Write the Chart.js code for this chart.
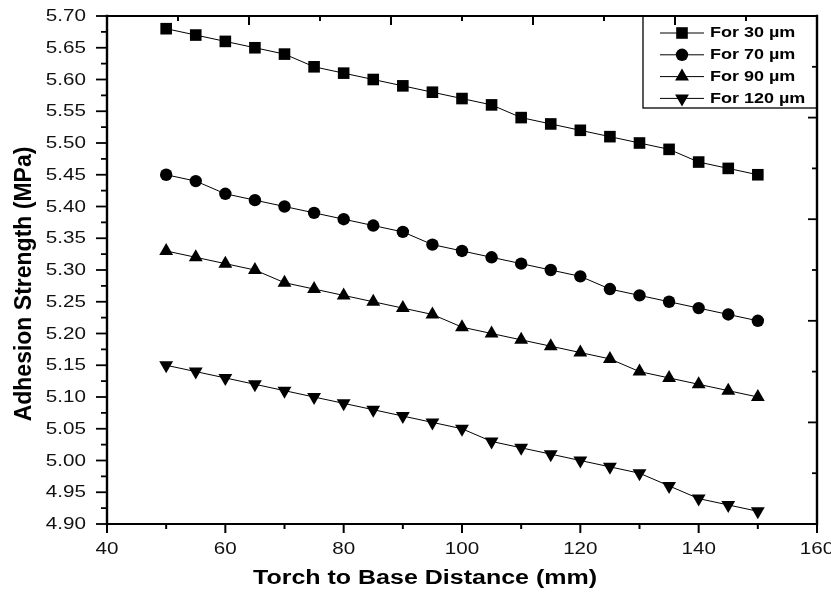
<!DOCTYPE html>
<html>
<head>
<meta charset="utf-8">
<script src="https://cdn.jsdelivr.net/npm/chart.js@4/dist/chart.umd.min.js"></script>
<style>
  html, body { margin: 0; padding: 0; background: #ffffff; }
  #wrap { width: 831px; height: 593px; }
</style>
</head>
<body>
<div id="wrap"><canvas id="chart" width="831" height="593"></canvas></div>
<script>
// Torch-to-base distance (mm)
const distances = [50, 55, 60, 65, 70, 75, 80, 85, 90, 95, 100, 105, 110, 115, 120, 125, 130, 135, 140, 145, 150];

// Adhesion strength (MPa) per coating thickness
const strength30 = [5.68, 5.67, 5.66, 5.65, 5.64, 5.62, 5.61, 5.60, 5.59, 5.58, 5.57, 5.56, 5.54, 5.53, 5.52, 5.51, 5.50, 5.49, 5.47, 5.46, 5.45];
const strength70 = [5.45, 5.44, 5.42, 5.41, 5.40, 5.39, 5.38, 5.37, 5.36, 5.34, 5.33, 5.32, 5.31, 5.30, 5.29, 5.27, 5.26, 5.25, 5.24, 5.23, 5.22];
const strength90 = [5.33, 5.32, 5.31, 5.30, 5.28, 5.27, 5.26, 5.25, 5.24, 5.23, 5.21, 5.20, 5.19, 5.18, 5.17, 5.16, 5.14, 5.13, 5.12, 5.11, 5.10];
const strength120 = [5.15, 5.14, 5.13, 5.12, 5.11, 5.10, 5.09, 5.08, 5.07, 5.06, 5.05, 5.03, 5.02, 5.01, 5.00, 4.99, 4.98, 4.96, 4.94, 4.93, 4.92];

const seriesNames = ['For 30 µm', 'For 70 µm', 'For 90 µm', 'For 120 µm'];

// Axis tick labels
const xTickLabels = ['40', '60', '80', '100', '120', '140', '160'];
const yTickLabels = ['4.90', '4.95', '5.00', '5.05', '5.10', '5.15', '5.20', '5.25', '5.30', '5.35', '5.40', '5.45', '5.50', '5.55', '5.60', '5.65', '5.70'];

const xTitle = 'Torch to Base Distance (mm)';
const yTitle = 'Adhesion Strength (MPa)';

const markerStyles = [
  { pointStyle: 'rect', radius: 8.2, rotation: 0 },
  { pointStyle: 'circle', radius: 6.2, rotation: 0 },
  { pointStyle: 'triangle', radius: 8, rotation: 0 },
  { pointStyle: 'triangle', radius: 8, rotation: 180 }
];

const seriesValues = [strength30, strength70, strength90, strength120];

const datasets = seriesValues.map((vals, i) => ({
  label: seriesNames[i],
  data: distances.map((d, k) => ({ x: d, y: vals[k] })),
  borderColor: '#000000',
  borderWidth: 1,
  backgroundColor: '#000000',
  pointStyle: markerStyles[i].pointStyle,
  pointRadius: markerStyles[i].radius,
  pointRotation: markerStyles[i].rotation,
  pointBackgroundColor: '#000000',
  pointBorderColor: '#000000',
  pointBorderWidth: 0,
  tension: 0,
  clip: false
}));

const TEXT_SX = 1.25; // wide lettering

function wideText(ctx, text, x, y, font, align, baseline, sx) {
  ctx.save();
  ctx.translate(x, y);
  ctx.scale(sx, 1);
  ctx.font = font;
  ctx.textAlign = align;
  ctx.textBaseline = baseline;
  ctx.fillText(text, 0, 0);
  ctx.restore();
}

function line(ctx, x1, y1, x2, y2) {
  ctx.beginPath();
  ctx.moveTo(x1, y1);
  ctx.lineTo(x2, y2);
  ctx.stroke();
}

const frameAndAxes = {
  id: 'frameAndAxes',
  afterDraw(chart) {
    const ctx = chart.ctx;
    const a = chart.chartArea;
    const xs = chart.scales.x, ys = chart.scales.y;
    const xt = chart.scales.xTop, yr = chart.scales.yRight;
    ctx.save();
    ctx.strokeStyle = '#000000';
    ctx.fillStyle = '#111111';
    ctx.lineCap = 'butt';

    // frame
    ctx.lineWidth = 2.4;
    line(ctx, a.left, a.top - 1.2, a.left, a.bottom + 1.2);
    line(ctx, a.right, a.top - 1.2, a.right, a.bottom + 1.2);
    ctx.lineWidth = 2;
    line(ctx, a.left, a.top, a.right, a.top);
    line(ctx, a.left, a.bottom, a.right, a.bottom);

    // left axis: major and minor ticks, labels
    const yVals = yTickLabels.map(Number);
    ctx.lineWidth = 1.8;
    yVals.forEach((v, i) => {
      const py = ys.getPixelForValue(v);
      line(ctx, a.left - 11, py, a.left, py);
      if (i < yVals.length - 1) {
        const pm = ys.getPixelForValue((v + yVals[i + 1]) / 2);
        line(ctx, a.left - 6, pm, a.left, pm);
      }
      wideText(ctx, yTickLabels[i], 86, py + 0.5, '16.5px "Liberation Sans", Arial, sans-serif', 'right', 'middle', TEXT_SX);
    });

    // bottom axis
    const xVals = xTickLabels.map(Number);
    ctx.lineWidth = 2;
    xVals.forEach((v, i) => {
      const px = xs.getPixelForValue(v);
      line(ctx, px, a.bottom, px, a.bottom + 9);
      if (i < xVals.length - 1) {
        const pm = xs.getPixelForValue((v + xVals[i + 1]) / 2);
        line(ctx, pm, a.bottom, pm, a.bottom + 5);
      }
      wideText(ctx, xTickLabels[i], px, 549, '16.5px "Liberation Sans", Arial, sans-serif', 'center', 'middle', TEXT_SX);
    });

    // top and right axes: inward ticks on ten divisions
    for (let k = 1; k < 10; k++) {
      const len = k % 2 === 0 ? 9 : 5;
      ctx.lineWidth = 2;
      const px = xt.getPixelForValue(k);
      line(ctx, px, a.top, px, a.top + len);
      ctx.lineWidth = 1.8;
      const py = yr.getPixelForValue(k);
      line(ctx, a.right - len, py, a.right, py);
    }

    // axis titles
    ctx.fillStyle = '#000000';
    wideText(ctx, xTitle, 425, 578, 'bold 20px "Liberation Sans", Arial, sans-serif', 'center', 'middle', TEXT_SX);
    ctx.save();
    ctx.translate(25, 284);
    ctx.rotate(-Math.PI / 2);
    ctx.font = 'bold 23px "Liberation Sans", Arial, sans-serif';
    ctx.textAlign = 'center';
    ctx.textBaseline = 'middle';
    ctx.fillText(yTitle, 0, 0);
    ctx.restore();

    // legend
    const lx1 = 643, ly1 = a.top, lx2 = a.right, ly2 = 108;
    ctx.lineWidth = 1.3;
    ctx.strokeRect(lx1, ly1, lx2 - lx1, ly2 - ly1);
    chart.data.datasets.forEach((ds, i) => {
      const ry = 33 + i * 21.8;
      ctx.lineWidth = 1;
      ctx.strokeStyle = '#000000';
      line(ctx, 660, ry, 704, ry);
      ctx.fillStyle = '#000000';
      Chart.helpers.drawPoint(ctx, {
        pointStyle: ds.pointStyle,
        radius: ds.pointRadius,
        rotation: ds.pointRotation,
        borderWidth: 0
      }, 682, ry);
      wideText(ctx, ds.label, 710, ry + 0.5, 'bold 14.4px "Liberation Sans", Arial, sans-serif', 'left', 'middle', TEXT_SX);
    });
    ctx.restore();
  }
};

new Chart(document.getElementById('chart'), {
  type: 'line',
  data: { datasets },
  options: {
    responsive: false,
    animation: false,
    events: [],
    layout: { padding: { left: 107, right: 14, top: 16, bottom: 69 } },
    plugins: { legend: { display: false }, tooltip: { enabled: false } },
    scales: {
      x: { type: 'linear', min: 40, max: 160, display: false },
      y: { type: 'linear', min: 4.9, max: 5.7, display: false },
      xTop: { type: 'linear', position: 'top', min: 0, max: 10, display: false },
      yRight: { type: 'linear', position: 'right', min: 0, max: 10, display: false }
    }
  },
  plugins: [frameAndAxes]
});
</script>
</body>
</html>
